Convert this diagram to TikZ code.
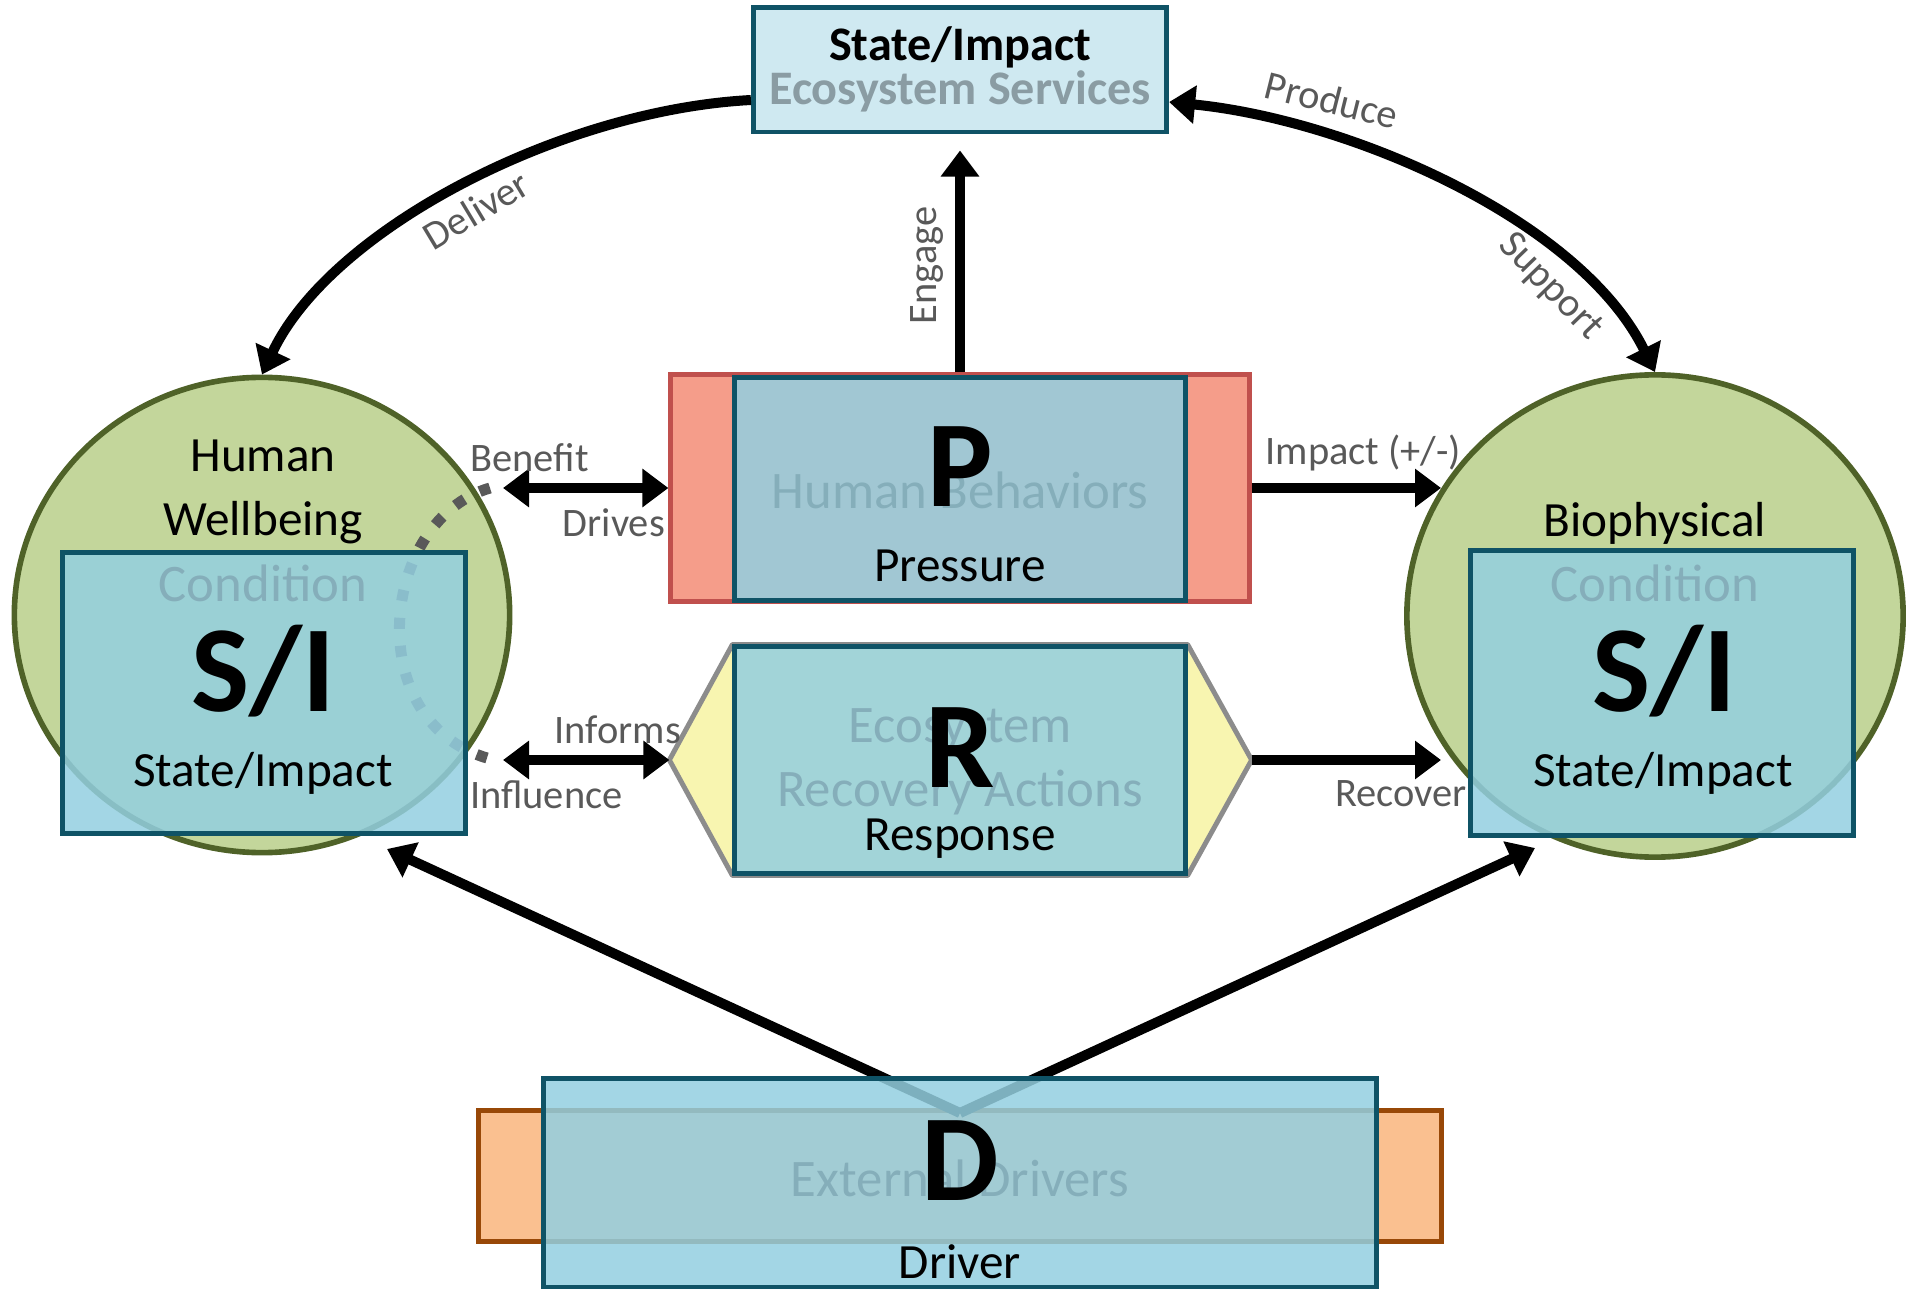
\documentclass[tikz,border=0pt]{standalone}
\usepackage{fontspec}
\setmainfont{Carlito}
\usetikzlibrary{arrows.meta,shapes.geometric}

\definecolor{circfill}{HTML}{C3D69B}
\definecolor{circline}{HTML}{4F6228}
\definecolor{boxfill}{HTML}{93CFE0}
\definecolor{boxline}{HTML}{0F5366}
\definecolor{esfill}{HTML}{CFE9F1}
\definecolor{esgray}{HTML}{8A9CA3}
\definecolor{pfill}{HTML}{F59D8A}
\definecolor{pline}{HTML}{C0504D}
\definecolor{rfill}{HTML}{F8F5B0}
\definecolor{rline}{HTML}{8C8C8C}
\definecolor{dfill}{HTML}{FAC090}
\definecolor{dline}{HTML}{984807}
\definecolor{labgray}{HTML}{595959}
\definecolor{fadetext}{HTML}{85AEBA}

\pgfdeclarelayer{back}
\pgfsetlayers{back,main}

\tikzset{
  circ/.style={ellipse, draw=circline, fill=circfill, line width=1.6pt},
  sibox/.style={rectangle, draw=boxline, fill=boxfill, fill opacity=0.85, line width=1.4pt},
  esbox/.style={rectangle, draw=boxline, fill=esfill, line width=1.4pt},
  pbox/.style={rectangle, draw=pline, fill=pfill, line width=1.4pt},
  rhex/.style={draw=rline, fill=rfill, line width=1.4pt, line join=round},
  dbox/.style={rectangle, draw=dline, fill=dfill, line width=1.4pt},
  title/.style={font=\fontsize{14}{18}\selectfont},
  fade/.style={text=fadetext, font=\fontsize{15}{18.2}\selectfont},
  big/.style={font=\bfseries\fontsize{35}{40}\selectfont},
  lbl/.style={text=labgray, font=\fontsize{11.5}{13}\selectfont, inner sep=1pt},
  arr/.style={line width=0.1cm, -{Triangle[length=0.26cm,width=0.37cm]}},
  dbl/.style={line width=0.1cm, {Triangle[length=0.26cm,width=0.37cm]}-{Triangle[length=0.26cm,width=0.37cm]}},
  dotarc/.style={draw=labgray, line width=0.11cm, dash pattern=on 0.11cm off 0.17cm}
}

\begin{document}
\begin{tikzpicture}[x=0.01cm, y=-0.01cm]
	\useasboundingbox (0,0) rectangle (1907,1289);

	% ecosystem services box
	\node[esbox, minimum width=4.13cm, minimum height=1.24cm] (es) at (960,70) {};
	\node[font=\bfseries\fontsize{13.7}{15}\selectfont] (estitle) at (960,47) {State/Impact};
	\node[font=\bfseries\fontsize{13.7}{15}\selectfont, text=esgray] (essub) at (960,91) {Ecosystem Services};

	% the two circles
	\node[circ, minimum width=4.95cm, minimum height=4.75cm] (hw) at (262,615) {};
	\node[circ, minimum width=4.96cm, minimum height=4.82cm] (bio) at (1655,616) {};
	\node[title, align=center] (hwtitle) at (263,492) {Human\\Wellbeing};
	\node[title] (biotitle) at (1655,523) {Biophysical};

	\draw[dotarc] (490,488) .. controls (380,520) and (360,720) .. (487,758);

	% state/impact boxes
	\node[sibox, minimum width=4.02cm, minimum height=2.8cm] (hwsi) at (264,693) {};
	\node[sibox, minimum width=3.83cm, minimum height=2.84cm] (biosi) at (1662,693) {};
	\node[fade] (hwcond) at (263,583) {Condition};
	\node[fade] (biocond) at (1655,583) {Condition};
	\node[big] (hwsil) at (263,671) {S/I};
	\node[big] (biosil) at (1664,671) {S/I};
	\node[title] (hwstate) at (263,773) {State/Impact};
	\node[title] (biostate) at (1663,773) {State/Impact};

	% pressure
	\node[pbox, minimum width=5.78cm, minimum height=2.26cm] (pout) at (960,488) {};
	\node[sibox, minimum width=4.5cm, minimum height=2.22cm] (pin) at (960,489) {};
	\node[fade] (pfade) at (960,490) {Human Behaviors};
	\node[big] (pletter) at (960,467) {P};
	\node[title] (ptext) at (960,566) {Pressure};

	% response
	\node[sibox, minimum width=4.5cm, minimum height=2.26cm] (rin) at (960,760) {};
	\begin{pgfonlayer}{back}
		\draw[rhex] (rin.north west) -- ([xshift=-0.63cm]rin.west) coordinate (rw) -- (rin.south west)
			-- (rin.south east) -- ([xshift=0.64cm]rin.east) coordinate (re) -- (rin.north east) -- cycle;
	\end{pgfonlayer}
	\node[fade, align=center] (rfade) at (960,762) {Ecosystem\\Recovery Actions};
	\node[big] (rletter) at (960,748) {R};
	\node[title] (rtext) at (960,839) {Response};

	% driver
	\coordinate (dtop) at (960,1113);
	\coordinate (hwtip) at (387,849);
	\coordinate (biotip) at (1535,848);
	\node[dbox, minimum width=9.63cm, minimum height=1.31cm] (dout) at (960,1176) {};
	\draw[arr] (dtop) -- (hwtip);
	\draw[arr] (dtop) -- (biotip);
	\node[sibox, minimum width=8.33cm, minimum height=2.08cm] (din) at (960,1183) {};
	\node[fade] (dfade) at (960,1178) {External Drivers};
	\node[big] (dletter) at (960,1161) {D};
	\node[title] (dtext) at (960,1262) {Driver};

	% connectors
	\coordinate (hwb) at (503,488);
	\coordinate (hwi) at (503,760);
	\coordinate (bioimp) at (1441,488);
	\coordinate (biorec) at (1441,760);

	\draw[dbl] (hwb) -- node[lbl, pos=0.16, above=0.08cm] {Benefit} node[lbl, pos=0.67, below=0.12cm] {Drives} (pout.west);
	\draw[dbl] (hwi) -- node[lbl, pos=0.69, above=0.08cm] {Informs} node[lbl, pos=0.26, below=0.12cm] {Influence} (rw);
	\draw[arr] (pout.east) -- node[lbl, pos=0.59, above=0.08cm] {Impact (+/-)} (bioimp);
	\draw[arr] (re) -- node[lbl, pos=0.79, below=0.12cm] {Recover} (biorec);
	\draw[arr, shorten >=0.16cm] (pout.north) -- node[lbl, pos=0.45, sloped, above=0.08cm] {Engage} (es.south);

	\draw[arr] ([yshift=-0.3cm]es.west) .. controls (560,110) and (330,230) .. (hw.north);
	\draw[dbl] ([yshift=-0.32cm]es.east) .. controls (1350,120) and (1580,220) .. (bio.north);
	\node[lbl, rotate=31] (deliver) at (476,210) {Deliver};
	\node[lbl, rotate=-14] (produce) at (1332,100) {Produce};
	\node[lbl, rotate=-46] (support) at (1550,287) {Support};
\end{tikzpicture}
\end{document}
